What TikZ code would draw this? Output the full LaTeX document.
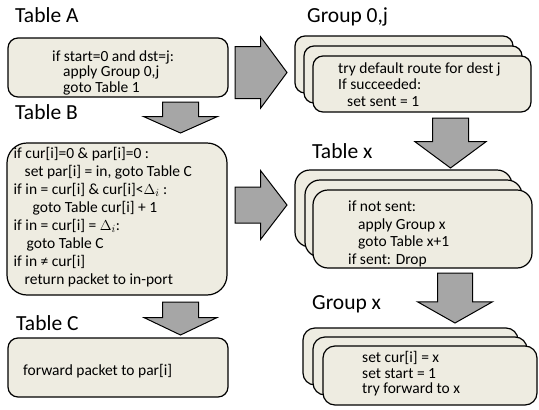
\documentclass[tikz,border=0pt]{standalone}
\usepackage{fontspec}
\setmainfont{Carlito}
\usetikzlibrary{shapes.arrows}
\definecolor{boxfill}{HTML}{EEECE1}
\definecolor{arrowfill}{HTML}{A6A6A6}
\tikzset{
  tbox/.style={draw=black, fill=boxfill, line width=1.2pt, rounded corners=#1, inner sep=0pt, outer sep=0pt, anchor=north west},
  tbox/.default=10pt,
  title/.style={anchor=base west, inner sep=0pt, font=\fontsize{21.5}{26}\selectfont},
  body/.style={anchor=west, inner sep=0pt, align=left, font=\fontsize{15.5}{#1}\selectfont},
  body/.default=16.5pt,
  blockarrow/.style={single arrow, draw=black, fill=arrowfill, line width=1pt, inner xsep=0pt, outer sep=0pt, anchor=tail}
}
\begin{document}
\begin{tikzpicture}[x=1pt,y=-1pt]
\useasboundingbox (0,0) rectangle (539,410);
% left column
\node[title] (ttlA) at (15,22) {Table A};
\node[tbox, minimum width=220pt, minimum height=59pt] (tabA) at (8,38) {};
\node[body=15.5pt] (txtA) at (52,72.5) {if start=0 and dst=j:\\\hspace*{11pt}apply Group 0,j\\\hspace*{11pt}goto Table 1};
\node[title] (ttlB) at (15,119) {Table B};
\node[tbox=20pt, minimum width=220pt, minimum height=152pt] (tabB) at (7,143) {};
\node[body=18pt] (txtB) at (13.5,217) {if cur[i]=0 \& par[i]=0 :\\
  \hspace*{11pt}set par[i] = in, goto Table C\\
  if in = cur[i] \& cur[i]<$\Delta_i$ :\\
  \hspace*{19pt}goto Table cur[i] + 1\\
  if in = cur[i] = $\Delta_i$:\\
  \hspace*{13pt}goto Table C\\
  if in ≠ cur[i]\\
  \hspace*{11pt}return packet to in-port};
\node[title] (ttlC) at (16,330) {Table C};
\node[tbox, minimum width=220pt, minimum height=59pt] (tabC) at (8,338) {};
\node[body] (txtC) at (23,371) {forward packet to par[i]};
% right column
\node[title] (ttlG) at (307,22) {Group 0,j};
\node[tbox, minimum width=218pt, minimum height=57pt] (grpA) at (295,36) {};
\node[tbox, minimum width=218pt, minimum height=57pt] (grpB) at (304,46) {};
\node[tbox, minimum width=218pt, minimum height=56pt] (grpC) at (313,56) {};
\node[body=16.5pt] (txtG) at (338,84.5) {try default route for dest j\\If succeeded:\\\hspace*{9pt}set sent = 1};
\node[title] (ttlX) at (312,158) {Table x};
\node[tbox=15pt, minimum width=217pt, minimum height=77pt] (tabXa) at (295,170) {};
\node[tbox=15pt, minimum width=217pt, minimum height=77pt] (tabXb) at (305,180) {};
\node[tbox=15pt, minimum width=219pt, minimum height=78pt] (tabXc) at (313,190) {};
\node[body=17.7pt] (txtX) at (348,234) {if not sent:\\\hspace*{10pt}apply Group x\\\hspace*{10pt}goto Table x+1\\if sent: Drop};
\node[title] (ttlY) at (312,309) {Group x};
\node[tbox=12pt, minimum width=215pt, minimum height=57pt] (grpXa) at (303,328) {};
\node[tbox=12pt, minimum width=214pt, minimum height=58pt] (grpXb) at (313,337) {};
\node[tbox=12pt, minimum width=214pt, minimum height=59pt] (grpXc) at (323,346) {};
\node[body=15.5pt] (txtY) at (362,374) {set cur[i] = x\\set start = 1\\try forward to x};
% block arrows
\node[blockarrow, inner ysep=25.5pt, single arrow head extend=9.5pt, single arrow tip angle=107, minimum height=52pt] (arAG) at (235,72.5) {};
\node[blockarrow, inner ysep=17.5pt, single arrow head extend=16.5pt, single arrow tip angle=105, minimum height=52pt] (arBX) at (235,205) {};
\node[blockarrow, rotate=-90, inner ysep=17.5pt, single arrow head extend=19pt, single arrow tip angle=132, minimum height=31pt] (arAB) at (180.5,102) {};
\node[blockarrow, rotate=-90, inner ysep=17.5pt, single arrow head extend=18.5pt, single arrow tip angle=129, minimum height=33pt] (arBC) at (180.5,302) {};
\node[blockarrow, rotate=-90, inner ysep=17.5pt, single arrow head extend=17.5pt, single arrow tip angle=107, minimum height=50pt] (arGX) at (450.5,118) {};
\node[blockarrow, rotate=-90, inner ysep=17pt, single arrow head extend=20pt, single arrow tip angle=121, minimum height=50pt] (arXY) at (455,273) {};
\end{tikzpicture}
\end{document}
